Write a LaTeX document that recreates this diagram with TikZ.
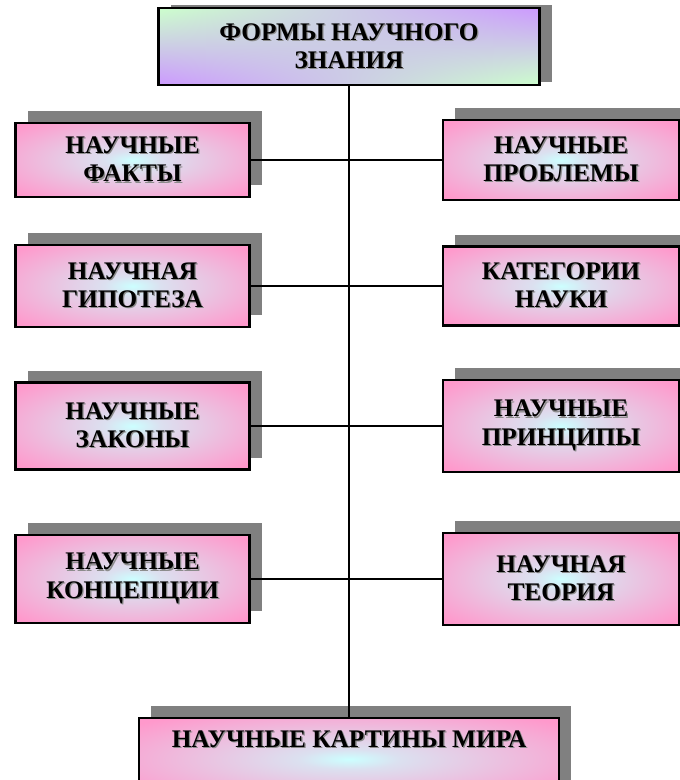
\documentclass[tikz,border=0pt]{standalone}
\usepackage{fontspec}
\setmainfont{Liberation Serif}
\usetikzlibrary{shadows,shadings}
\definecolor{boxpink}{HTML}{FF99CC}
\definecolor{boxcyan}{HTML}{CCFFFF}
\definecolor{headgreen}{HTML}{CCFFCC}
\definecolor{headviolet}{HTML}{CC99FF}
\definecolor{shadowgray}{HTML}{808080}
\pgfdeclareradialshading{boxglow}{\pgfpoint{0bp}{0bp}}{color(0bp)=(boxcyan); color(6bp)=(boxcyan!70!boxpink); color(33bp)=(boxpink); color(80bp)=(boxpink)}
\newcommand{\dropped}[1]{\leavevmode\rlap{\kern0.9pt\raisebox{-0.9pt}{\textcolor{black!45}{#1}}}#1}
\tikzset{
    formbox/.style={rectangle,draw,line width=1.6pt,shade,shading=boxglow,align=center,
        font=\bfseries\fontsize{18}{20}\selectfont,
        general shadow={fill=shadowgray,shadow xshift=0.3cm,shadow yshift=0.3cm}},
    leftbox/.style={formbox,minimum width=5.85cm},
    rightbox/.style={formbox,minimum width=5.9cm},
    headbox/.style={rectangle,draw,line width=1.6pt,shade,shading=bilinear interpolation,
        upper left=headgreen,upper right=headviolet,lower left=headviolet,lower right=headgreen,
        align=center,font=\bfseries\fontsize{18}{20}\selectfont,
        minimum width=9.525cm,minimum height=1.925cm,
        general shadow={fill=shadowgray,shadow xshift=0.3cm,shadow yshift=0.08cm}},
    link/.style={line width=1pt}
}
\begin{document}
\begin{tikzpicture}
        \useasboundingbox (0,0) rectangle (17,-19.5);
        \node[headbox] at (8.725,-1.1625) (forms) {\dropped{ФОРМЫ НАУЧНОГО}\\\dropped{ЗНАНИЯ}};
        \node[leftbox,minimum height=1.85cm] at (3.3125,-4) (facts) {\dropped{НАУЧНЫЕ}\\\dropped{ФАКТЫ}};
        \node[rightbox,minimum height=2cm] at (14.025,-4) (problems) {\dropped{НАУЧНЫЕ}\\\dropped{ПРОБЛЕМЫ}};
        \node[leftbox,minimum height=2.05cm] at (3.3125,-7.15) (hypothesis) {\dropped{НАУЧНАЯ}\\\dropped{ГИПОТЕЗА}};
        \node[rightbox,minimum height=1.975cm] at (14.025,-7.15) (categories) {\dropped{КАТЕГОРИИ}\\\dropped{НАУКИ}};
        \node[leftbox,minimum height=2.175cm] at (3.3125,-10.65) (laws) {\dropped{НАУЧНЫЕ}\\\dropped{ЗАКОНЫ}};
        \node[rightbox,minimum height=2.3cm] at (14.025,-10.65) (principles) {\dropped{НАУЧНЫЕ}\\\dropped{ПРИНЦИПЫ}};
        \node[leftbox,minimum height=2.2cm] at (3.3125,-14.475) (concepts) {\dropped{НАУЧНЫЕ}\\\dropped{КОНЦЕПЦИИ}};
        \node[rightbox,minimum height=2.3cm] at (14.025,-14.475) (theory) {\dropped{НАУЧНАЯ}\\\dropped{ТЕОРИЯ}};
        \node[formbox,minimum width=10.5cm,anchor=north,text height=0.4cm,text depth=1cm,inner ysep=0.325cm] at (8.725,-17.925) (world) {\dropped{НАУЧНЫЕ КАРТИНЫ МИРА}};
        \draw[link] (forms) -- (world);
        \draw[link] (facts) -- (problems);
        \draw[link] (hypothesis) -- (categories);
        \draw[link] (laws) -- (principles);
        \draw[link] (concepts) -- (theory);
    \end{tikzpicture}
\end{document}
